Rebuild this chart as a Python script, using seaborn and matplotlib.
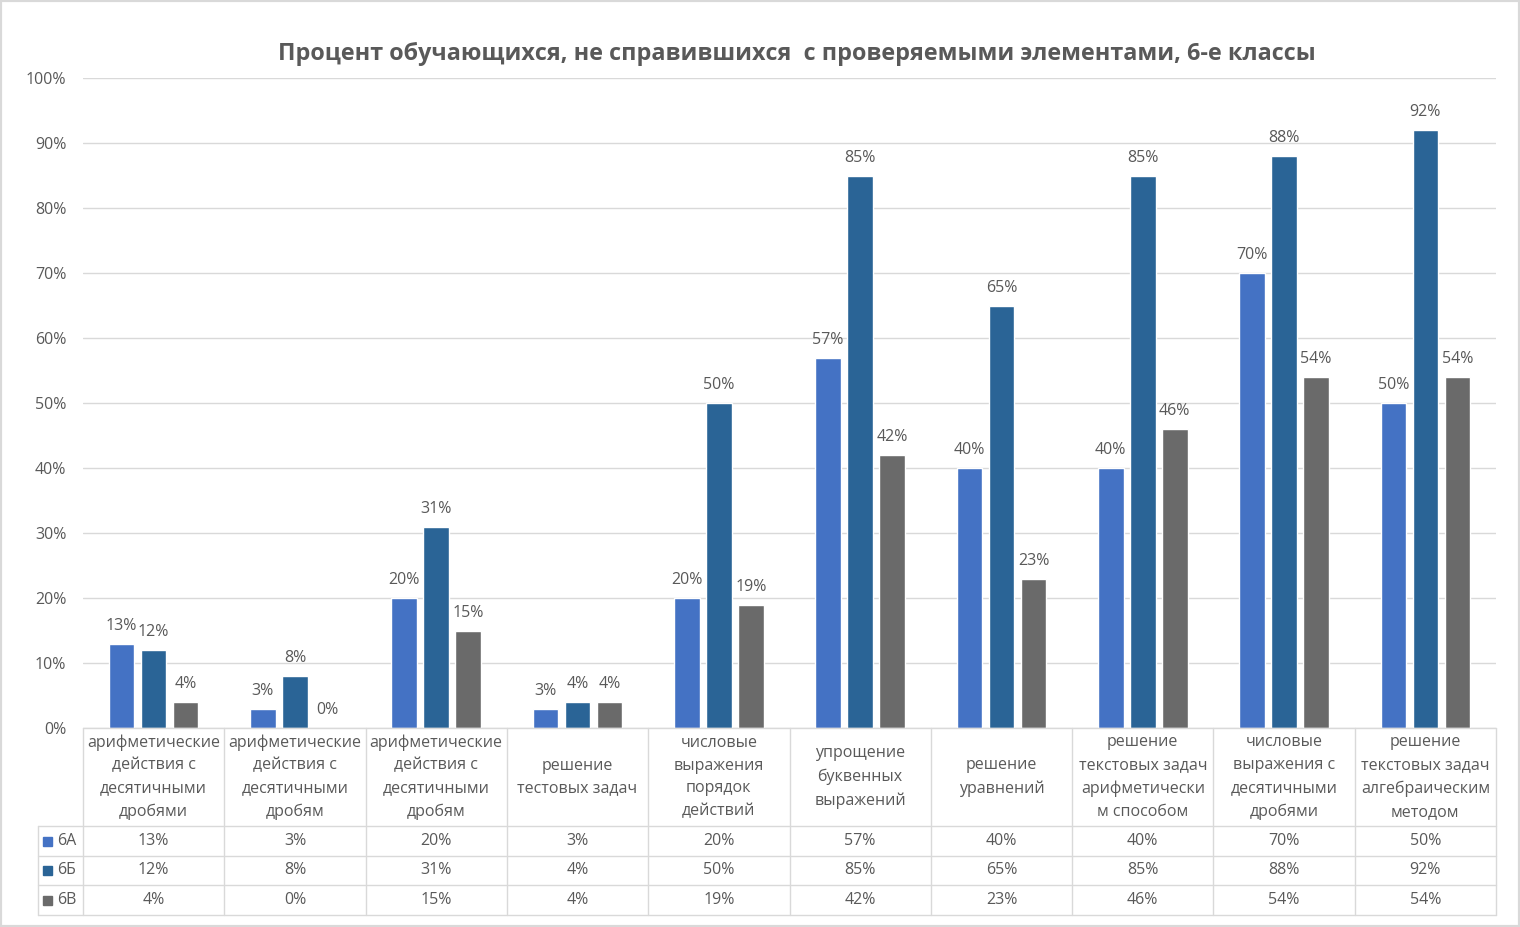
import numpy as np
import pandas as pd
import seaborn as sns
import matplotlib.pyplot as plt
from matplotlib.patches import Rectangle
from matplotlib.transforms import blended_transform_factory

categories = [
    'арифметические\nдействия с\nдесятичными\nдробями',
    'арифметические\nдействия с\nдесятичными\nдробям',
    'арифметические\nдействия с\nдесятичными\nдробям',
    'решение\nтестовых задач',
    'числовые\nвыражения\nпорядок\nдействий',
    'упрощение\nбуквенных\nвыражений',
    'решение\nуравнений',
    'решение\nтекстовых задач\nарифметически\nм способом',
    'числовые\nвыражения с\nдесятичными\nдробями',
    'решение\nтекстовых задач\nалгебраическим\nметодом',
]
classes = ['6А', '6Б', '6В']
vals_6a = [13, 3, 20, 3, 20, 57, 40, 40, 70, 50]
vals_6b = [12, 8, 31, 4, 50, 85, 65, 85, 88, 92]
vals_6v = [4, 0, 15, 4, 19, 42, 23, 46, 54, 54]
colors = ['#4472C4', '#2A6496', '#6A6A6A']

title = 'Процент обучающихся, не справившихся  с проверяемыми элементами, 6-е классы'

sns.set_theme(style='white')
plt.rcParams['font.family'] = ['Open Sans', 'DejaVu Sans']
txt = '#595959'
line_c = '#D9D9D9'

n = len(categories)
# two categories share the same label, so bars are keyed by position
df = pd.DataFrame({
    'pos': list(range(n)) * 3,
    'cls': np.repeat(classes, n),
    'val': vals_6a + vals_6b + vals_6v,
})

W, H = 1520, 927
fig = plt.figure(figsize=(W / 100, H / 100), dpi=100)
ax = fig.add_axes([83 / W, 1 - 728 / H, 1413 / W, 650 / H])

sns.barplot(data=df, x='pos', y='val', hue='cls', palette=colors, width=0.68,
            gap=0.2, saturation=1, legend=False, errorbar=None, ax=ax)

ax.set_xlim(-0.5, n - 0.5)
ax.set_ylim(0, 100)
ax.set_yticks(range(0, 101, 10))
ax.set_yticklabels([f'{v}%' for v in range(0, 101, 10)], color=txt, fontsize=11.5)
ax.set_xticks([])
ax.set_xlabel('')
ax.set_ylabel('')
ax.tick_params(axis='y', length=0, pad=12)
ax.yaxis.grid(True, color=line_c, lw=1)
ax.set_axisbelow(True)
for s in ax.spines.values():
    s.set_visible(False)

for c in ax.containers:
    ax.bar_label(c, fmt='{:.0f}%', padding=7, color=txt, fontsize=11.5)

# data table under the plot
rows = [0, -98 / 650, -128 / 650, -157 / 650, -187 / 650]
leg_left = -45 / 1413
kw = dict(transform=ax.transAxes, color=line_c, lw=1, clip_on=False)
for i in range(n + 1):
    ax.plot([i / n, i / n], [rows[0], rows[-1]], **kw)
ax.plot([0, 1], [rows[0], rows[0]], **kw)
for r in rows[1:]:
    ax.plot([leg_left, 1], [r, r], **kw)
ax.plot([leg_left, leg_left], [rows[1], rows[-1]], **kw)

trans = blended_transform_factory(ax.transData, ax.transAxes)
for i, cat in enumerate(categories):
    ax.text(i, (rows[0] + rows[1]) / 2, cat, transform=trans, ha='center',
            va='center', color=txt, fontsize=11.5, linespacing=1.58)
for j, (cls, vals) in enumerate(zip(classes, [vals_6a, vals_6b, vals_6v])):
    yc = (rows[j + 1] + rows[j + 2]) / 2
    ax.add_patch(Rectangle((-40 / 1413, yc - 4.5 / 650), 9 / 1413, 9 / 650,
                           transform=ax.transAxes, color=colors[j], clip_on=False))
    ax.text(-26 / 1413, yc, cls, transform=ax.transAxes, ha='left', va='center',
            color=txt, fontsize=11.5)
    for i, v in enumerate(vals):
        ax.text(i, yc, f'{v}%', transform=trans, ha='center', va='center',
                color=txt, fontsize=11.5)

fig.text(797 / W, 1 - 54 / H, title, ha='center', va='center', color=txt,
         fontsize=16.8, fontweight='bold')
fig.patches.append(Rectangle((0, 0), 1, 1, transform=fig.transFigure, fill=False,
                             ec=line_c, lw=3))

fig.savefig('out.png', dpi=100)
